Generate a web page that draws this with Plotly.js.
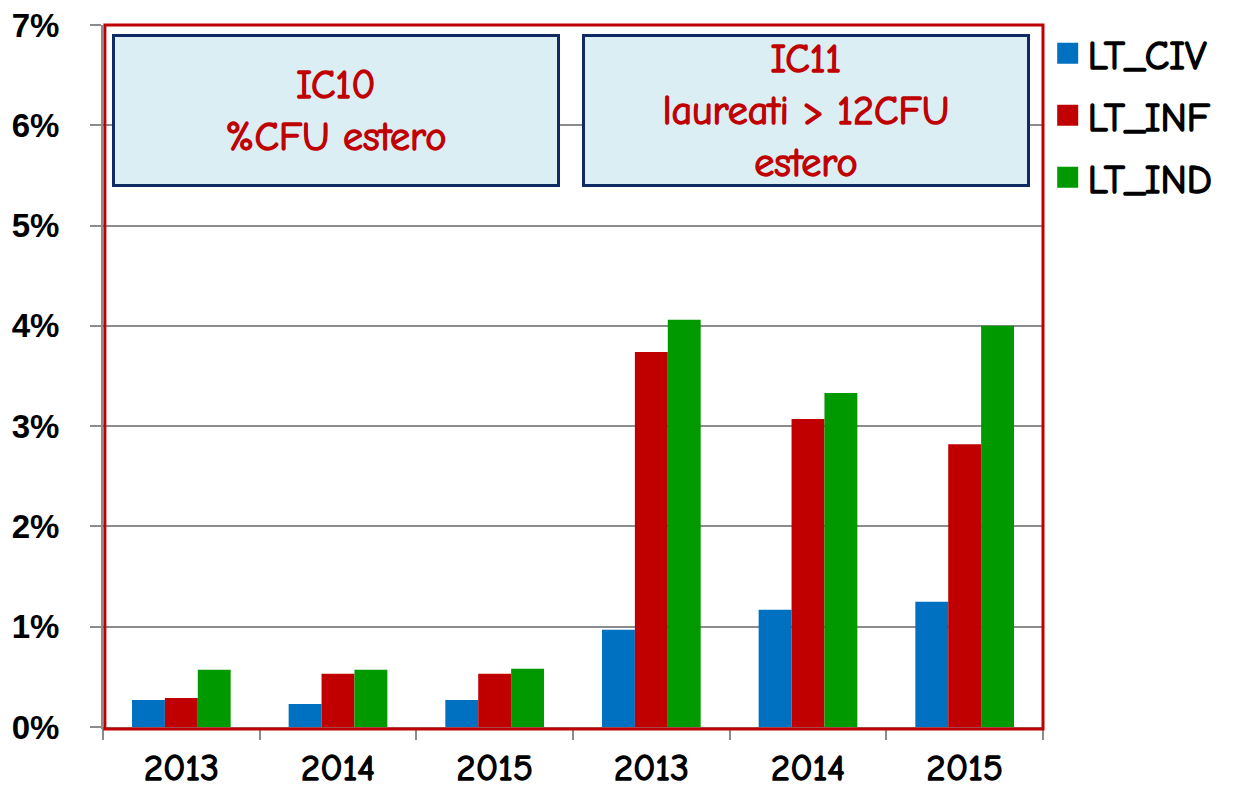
<!DOCTYPE html>
<html>
<head>
<meta charset="utf-8">
<script src="https://cdn.plot.ly/plotly-3.0.1.min.js"></script>
<style>
  html, body { margin: 0; padding: 0; background: #fff; }
  #chart { width: 1234px; height: 789px; }
  /* il font comic non ha il grassetto: ispessisco il tratto */
  #chart g.xtick text { stroke: #000 !important; stroke-width: 1.5px !important; }
  #chart text.legendtext { stroke: #000 !important; stroke-width: 1.5px !important; }
  #chart text.annotation-text { stroke: #c00000 !important; stroke-width: 1.4px !important; }
</style>
</head>
<body>
<div id="chart"></div>
<script>
// --- dati (valori in %) ---
const positions = [0, 1, 2, 3, 4, 5];
const years = ['2013', '2014', '2015', '2013', '2014', '2015'];

const ltCiv = [0.27, 0.23, 0.27, 0.97, 1.17, 1.25];
const ltInf = [0.29, 0.53, 0.53, 3.74, 3.07, 2.82];
const ltInd = [0.57, 0.57, 0.58, 4.06, 3.33, 4.00];

const seriesNames = ['LT_CIV', 'LT_INF', 'LT_IND'];
const seriesColors = ['#0070c0', '#c00000', '#009900'];

const boxTexts = [
  'IC10<br>%CFU estero',
  'IC11<br>laureati &gt; 12CFU<br>estero'
];

// font "a mano" (Comic Sans se presente)
const comic = '"Comic Sans MS", "Comic Neue", "DejaVu Sans", sans-serif';

const traces = [ltCiv, ltInf, ltInd].map((vals, i) => ({
  type: 'bar',
  x: positions,
  y: vals,
  name: seriesNames[i],
  showlegend: false,
  marker: { color: seriesColors[i], line: { width: 0 } },
  hoverinfo: 'x+y+name'
}));

// voci di legenda con quadrati più grandi (nessun punto disegnato)
seriesNames.forEach((n, i) => {
  traces.push({
    type: 'scatter',
    mode: 'markers',
    x: [null], y: [null],
    name: n,
    legendgroup: n,
    marker: { symbol: 'square', size: 16, color: seriesColors[i],
              line: { color: seriesColors[i], width: 5 } },
    hoverinfo: 'skip'
  });
});

// asse secondario solo per i tick sui confini delle categorie
const bounds = positions.concat([positions.length]).map(p => p - 0.5);

const layout = {
  width: 1234,
  height: 789,
  margin: { l: 103, r: 191, t: 25, b: 62 },
  paper_bgcolor: '#ffffff',
  plot_bgcolor: '#ffffff',
  barmode: 'group',
  bargap: 0.37,
  bargroupgap: 0,
  showlegend: true,
  legend: {
    x: 1.005, xanchor: 'left',
    y: 1.006, yanchor: 'top',
    traceorder: 'grouped',
    tracegroupgap: 7,
    itemsizing: 'trace',
    font: { family: comic, size: 40, color: '#000' },
    itemwidth: 30
  },
  xaxis: {
    range: [-0.5, 5.5],
    tickvals: positions,
    ticktext: years,
    ticks: '',
    showgrid: false,
    zeroline: false,
    showline: false,
    tickfont: { family: comic, size: 37, color: '#000' },
    ticklabelstandoff: 15,
    fixedrange: true
  },
  xaxis2: {
    overlaying: 'x',
    matches: 'x',
    side: 'bottom',
    tickvals: bounds,
    showticklabels: false,
    ticks: 'outside',
    ticklen: 11,
    tickwidth: 2,
    tickcolor: '#8c8c8c',
    showgrid: false,
    zeroline: false,
    showline: true,
    linecolor: '#8c8c8c',
    linewidth: 2
  },
  yaxis: {
    range: [0, 7],
    dtick: 1,
    ticksuffix: '%',
    ticks: 'outside',
    ticklen: 11,
    tickwidth: 2,
    tickcolor: '#8c8c8c',
    showgrid: true,
    gridcolor: '#8c8c8c',
    gridwidth: 2,
    zeroline: false,
    showline: true,
    linecolor: '#8c8c8c',
    linewidth: 2,
    tickfont: { family: 'Liberation Sans, Arial, sans-serif', size: 33, color: '#000', weight: 'bold' },
    ticklabelstandoff: 24,
    fixedrange: true
  },
  shapes: [{
    type: 'rect',
    xref: 'paper', yref: 'paper',
    x0: 0.002, x1: 1, y0: -0.003, y1: 1,
    line: { color: '#c00000', width: 3 },
    fillcolor: 'rgba(0,0,0,0)',
    layer: 'above'
  }],
  annotations: boxTexts.map((t, i) => ({
    xref: 'paper', yref: 'paper',
    x: i === 0 ? 0.2484 : 0.748,
    y: 0.8775,
    xanchor: 'center', yanchor: 'middle',
    text: t,
    showarrow: false,
    align: 'center',
    width: 442,
    height: 147,
    valign: 'middle',
    bgcolor: '#dbeef4',
    bordercolor: '#102a63',
    borderwidth: 3,
    borderpad: 0,
    font: { family: comic, size: 40, color: '#c00000' }
  }))
};

traces.push({
  type: 'bar', x: [], y: [], xaxis: 'x2', showlegend: false, hoverinfo: 'skip'
});

Plotly.newPlot('chart', traces, layout, { displayModeBar: false, staticPlot: true });
</script>
</body>
</html>
